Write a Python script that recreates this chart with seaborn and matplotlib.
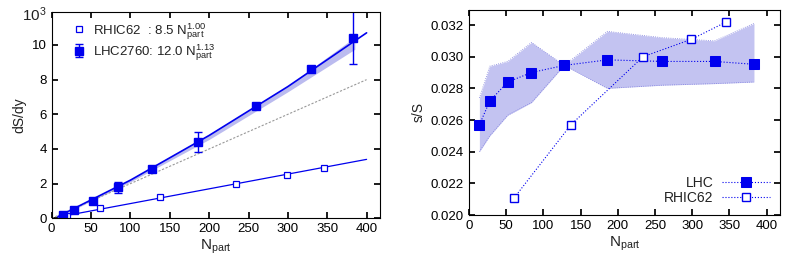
import numpy as np
import pandas as pd
import seaborn as sns
import matplotlib.pyplot as plt

# LHC 2760 points
lhc_npart = [14, 28, 52, 84, 128, 186, 260, 330, 383]
lhc_dsdy = [0.2, 0.5, 1.0, 1.78, 2.84, 4.4, 6.47, 8.6, 10.38]
lhc_err_lo = [0.05, 0.05, 0.06, 0.3, 0.1, 0.6, 0.1, 0.15, 1.5]
lhc_err_hi = [0.05, 0.05, 0.06, 0.3, 0.1, 0.55, 0.1, 0.15, 2.0]
lhc_sS = [0.0257, 0.0272, 0.0284, 0.0290, 0.02945, 0.0298, 0.0297, 0.0297, 0.02952]
lhc_sS_lo = [0.0240, 0.0250, 0.0263, 0.0271, 0.02945, 0.0280, 0.0282, 0.0283, 0.0284]
lhc_sS_hi = [0.0274, 0.0294, 0.0297, 0.0309, 0.02945, 0.0316, 0.0312, 0.0310, 0.0321]

# RHIC 62 points
rhic_npart = [20, 61, 137, 234, 299, 346]
rhic_dsdy = [0.15, 0.6, 1.25, 1.98, 2.5, 2.9]
rhic_sS_npart = [61, 137, 234, 299, 346]
rhic_sS = [0.0211, 0.0257, 0.0300, 0.0311, 0.0322]

# fit curves and band
fit_x = [8, 100, 200, 300, 400]
lhc_fit = [0.1, 2.2, 4.78, 7.6, 10.7]
rhic_fit = [0.07, 0.85, 1.7, 2.55, 3.4]
band_x = [10, 100, 200, 300, 385]
band_lo = [0.1, 2.1, 4.55, 7.3, 9.75]
band_hi = [0.1, 2.25, 4.85, 7.65, 10.45]
ref_x = [0, 400]
ref_y = [0, 8.0]

blue = "#0000ee"
band_col = "#b4b4ee"

sns.set_theme(style="ticks")
plt.rcParams['font.family'] = ['Liberation Sans', 'DejaVu Sans']
plt.rcParams['mathtext.fontset'] = 'custom'
plt.rcParams['mathtext.rm'] = 'Liberation Sans'
plt.rcParams['mathtext.it'] = 'Liberation Sans'
plt.rcParams['xtick.direction'] = 'in'
plt.rcParams['ytick.direction'] = 'in'
plt.rcParams['axes.edgecolor'] = 'black'
plt.rcParams['xtick.color'] = 'black'
plt.rcParams['ytick.color'] = 'black'
plt.rcParams['text.color'] = '#222222'
plt.rcParams['axes.labelcolor'] = '#222222'

fig = plt.figure(figsize=(7.89, 2.70), dpi=100)
ax1 = fig.add_axes([0.0655, 0.1915, 0.4161, 0.7652])
ax2 = fig.add_axes([0.5944, 0.2037, 0.3942, 0.7593])

# ---- left panel
ax1.fill_between(band_x, band_lo, band_hi, color=band_col, alpha=0.9, lw=0)
sns.lineplot(x=ref_x, y=ref_y, ax=ax1, color="#999999", lw=0.8, linestyle=(0, (2, 1.5)))
sns.lineplot(x=fit_x, y=lhc_fit, ax=ax1, color=blue, lw=1.2)
sns.lineplot(x=fit_x, y=rhic_fit, ax=ax1, color=blue, lw=0.9)
ax1.errorbar(rhic_npart, rhic_dsdy, fmt='s', ms=4, mfc='white', mec=blue, mew=0.9,
             color=blue, label=r"RHIC62  : 8.5 N$_{\rm part}^{1.00}$")
ax1.errorbar(lhc_npart, lhc_dsdy, yerr=[lhc_err_lo, lhc_err_hi], fmt='s', ms=6,
             color=blue, ecolor=blue, elinewidth=1, capsize=3,
             label=r"LHC2760: 12.0 N$_{\rm part}^{1.13}$")
ax1.set_xlim(0, 417)
ax1.set_ylim(0, 11.92)
ax1.set_xticks(range(0, 401, 50))
ax1.set_yticks(range(0, 11, 2))
ax1.set_xlabel(r"N$_{\rm part}$", fontsize=11, labelpad=2)
ax1.set_ylabel("dS/dy", fontsize=10, labelpad=4)
ax1.text(-0.015, 0.985, r"10$^3$", transform=ax1.transAxes, ha='right', va='center', fontsize=11)
ax1.tick_params(top=True, right=True, labelsize=9.5, length=4)
ax1.legend(loc='upper left', bbox_to_anchor=(0.03, 1.0), frameon=False, fontsize=9.5,
           handlelength=1.2, handletextpad=0.5, borderaxespad=0.3, labelspacing=0.05)

# ---- right panel
ax2.fill_between(lhc_npart, lhc_sS_lo, lhc_sS_hi, color=band_col, alpha=0.8, lw=0)
ax2.plot(lhc_npart, lhc_sS_lo, color="#8080dd", lw=0.6, ls=':')
ax2.plot(lhc_npart, lhc_sS_hi, color="#8080dd", lw=0.6, ls=':')
sns.lineplot(x=lhc_npart, y=lhc_sS, ax=ax2, color=blue, lw=0.8, linestyle=':',
             marker='s', markersize=7, markeredgecolor=blue, label="LHC")
sns.lineplot(x=rhic_sS_npart, y=rhic_sS, ax=ax2, color=blue, lw=0.8, linestyle=':',
             marker='s', markersize=6, markerfacecolor='white', markeredgecolor=blue,
             markeredgewidth=1, label="RHIC62")
ax2.set_xlim(0, 418)
ax2.set_ylim(0.020, 0.03295)
ax2.set_xticks(range(0, 401, 50))
ax2.set_yticks([0.020, 0.022, 0.024, 0.026, 0.028, 0.030, 0.032])
ax2.yaxis.set_major_formatter(plt.FormatStrFormatter('%.3f'))
ax2.set_xlabel(r"N$_{\rm part}$", fontsize=11, labelpad=2)
ax2.set_ylabel("s/S", fontsize=10, labelpad=4)
ax2.tick_params(top=True, right=True, labelsize=9.5, length=4)
ax2.legend(loc='lower right', frameon=False, fontsize=10, markerfirst=False,
           handlelength=3.5, handletextpad=0.6, borderaxespad=0.3, labelspacing=0.1)

for ax in (ax1, ax2):
    for s in ax.spines.values():
        s.set_linewidth(0.8)

fig.savefig("out.png", dpi=100)
